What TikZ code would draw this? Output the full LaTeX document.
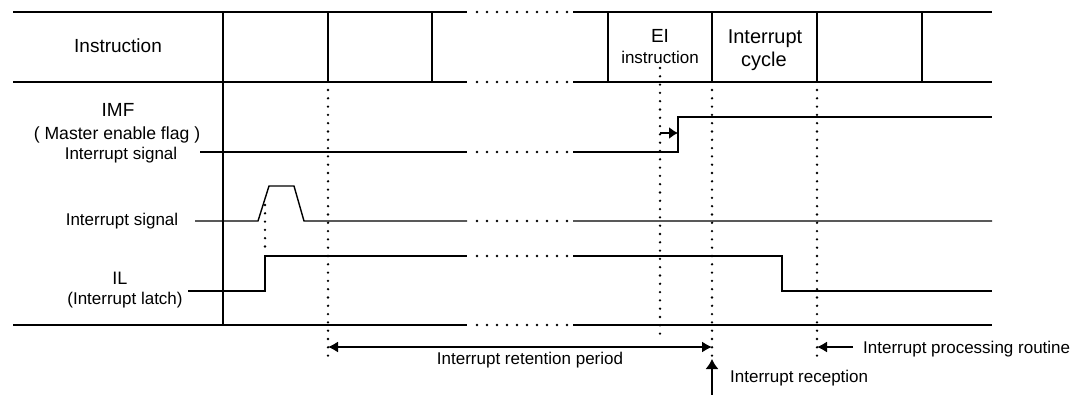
\documentclass[tikz,border=0pt]{standalone}
\usepackage{fontspec}
\setmainfont{Liberation Sans}
\usetikzlibrary{arrows.meta}
\tikzset{
  sig/.style={line width=1.4pt},
  vdots/.style={line width=2.6pt, line cap=round, dash pattern=on 0pt off 8.3pt},
  hdots/.style={line width=2.6pt, line cap=round, dash pattern=on 0pt off 10pt},
  lbl/.style={font=\fontsize{17}{20}\selectfont, inner sep=0pt, anchor=base},
  big/.style={lbl, font=\fontsize{19}{22}\selectfont},
  tip/.style={-{Latex[length=10pt,width=11pt]}}
}
\begin{document}
\begin{tikzpicture}[x=1pt,y=-1pt]
\useasboundingbox (0,0) rectangle (1079,395);

% frame lines, broken in the middle
\foreach \y in {12,82,325}
  \draw[sig] (13,\y) -- (467,\y) (573,\y) -- (992,\y);
\foreach \y in {12,82,152,221,256,325}
  \draw[hdots] (477,\y) -- (567.5,\y);
\draw[sig] (223,12) -- (223,325);
\foreach \x in {328,432,608,712,817,922}
  \draw[sig] (\x,12) -- (\x,82);

% signals
\draw[sig] (200,152) -- (467,152) (573,152) -- (678,152) -- (678,117) -- (992,117);
\draw[sig] (195,221) -- (258,221) -- (269,186) -- (294,186) -- (304,221) -- (467,221)
  (573,221) -- (992,221);
\draw[sig] (188,291) -- (265,291) -- (265,256) -- (467,256) (573,256) -- (782,256)
  -- (782,291) -- (992,291);

% timing marks
\foreach \x in {328,712,817}
  \draw[vdots] (\x,90) -- (\x,357);
\draw[vdots] (660,68) -- (660,340);
\draw[vdots] (265,205) -- (265,250);

% labels
\node[big] (instr) at (118,53) {Instruction};
\node[big] (imf) at (118,117) {IMF};
\node[lbl, font=\fontsize{17.6}{20}\selectfont] (mef) at (117,140) {( Master enable flag )};
\node[lbl] (isig1) at (121,160) {Interrupt signal};
\node[lbl] (isig2) at (122,226) {Interrupt signal};
\node[big, font=\fontsize{18}{21}\selectfont] (il) at (120,285) {IL};
\node[lbl] (ilatch) at (125,305) {(Interrupt latch)};
\node[big] (ei) at (660,43) {EI};
\node[lbl] (eiinstr) at (660,64) {instruction};
\node[lbl, font=\fontsize{20}{23}\selectfont] (icyc1) at (765,44) {Interrupt};
\node[lbl, font=\fontsize{20}{23}\selectfont] (icyc2) at (764,67) {cycle};
\node[lbl] (retlbl) at (530,364) {Interrupt retention period};
\node[lbl, anchor=base west] (proclbl) at (863,353) {Interrupt processing routine};
\node[lbl, anchor=base west] (reclbl) at (730,382) {Interrupt reception};

% arrows
\coordinate (ei-s) at (660,133);
\coordinate (ei-e) at (678,133);
\coordinate (ret-l) at (328,347);
\coordinate (ret-r) at (712,347);
\coordinate (proc-s) at (853,347);
\coordinate (proc-e) at (817,347);
\coordinate (rec-s) at (712,395);
\coordinate (rec-e) at (712,359);
\draw[sig, -{Latex[length=9pt,width=12pt]}] (ei-s) -- (ei-e);
\draw[sig, {Latex[length=10pt,width=11pt]}-{Latex[length=10pt,width=11pt]}] (ret-l) -- (ret-r);
\draw[sig, tip] (proc-s) -- (proc-e);
\draw[sig, -{Latex[length=10pt,width=13pt]}] (rec-s) -- (rec-e);
\end{tikzpicture}
\end{document}
